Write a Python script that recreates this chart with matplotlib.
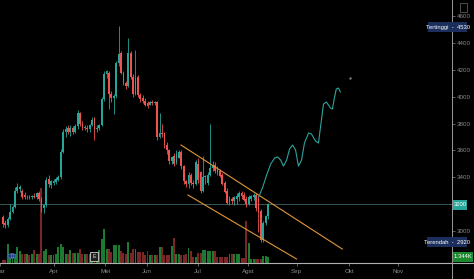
import matplotlib
matplotlib.use("Agg")
import matplotlib.pyplot as plt
from matplotlib.lines import Line2D
from matplotlib.patches import Circle, Rectangle

plt.rcParams['font.family'] = ['Liberation Sans', 'DejaVu Sans']

# OHLC per trading day (bar index = position on the chart)
opens = [3100, 3060, 3040, 3090, 3140, 3180, 3300, 3310, 3300, 3265,
         3250, 3255, 3250, 3260, 3250, 3285, 3240, 3170, 3190, 3390,
         3340, 3360, 3365, 3380, 3400, 3590, 3740, 3770, 3735, 3770,
         3740, 3780, 3880, 3800, 3765, 3770, 3760, 3790, 3840, 3760,
         3770, 3790, 3980, 4170, 4180, 4020, 3990, 4005, 4250, 4330,
         4180, 4100, 4080, 4330, 4150, 4020, 4150, 4010, 3990, 3970,
         3950, 3940, 3960, 3955, 3960, 3700, 3730, 3730, 3640, 3600,
         3520, 3560, 3510, 3545, 3590, 3480, 3370, 3350, 3420, 3360,
         3350, 3500, 3440, 3300, 3400, 3360, 3420, 3470, 3490, 3460,
         3450, 3420, 3360, 3300, 3210, 3240, 3220, 3240, 3250, 3280,
         3270, 3240, 3200, 3240, 3250, 3265, 3245, 3150, 2930, 3060,
         3110]
highs = [3120, 3080, 3100, 3200, 3190, 3330, 3360, 3340, 3310, 3290,
         3270, 3265, 3270, 3280, 3290, 3300, 3250, 3200, 3400, 3420,
         3380, 3390, 3400, 3420, 3610, 3760, 3780, 3790, 3790, 3780,
         3800, 3900, 3890, 3820, 3790, 3790, 3800, 3850, 3850, 3790,
         3800, 4000, 4190, 4200, 4190, 4040, 4020, 4270, 4530, 4340,
         4190, 4120, 4440, 4340, 4170, 4350, 4160, 4030, 4010, 3990,
         3970, 3970, 3975, 3970, 3970, 3880, 3800, 3740, 3660, 3610,
         3560, 3580, 3600, 3600, 3600, 3490, 3380, 3440, 3430, 3380,
         3530, 3540, 3450, 3560, 3420, 3440, 3800, 3520, 3510, 3480,
         3460, 3430, 3370, 3320, 3260, 3250, 3260, 3280, 3300, 3300,
         3290, 3260, 3270, 3270, 3280, 3280, 3260, 3160, 3070, 3120,
         3210]
lows = [3030, 3020, 3025, 3080, 3130, 3170, 3280, 3290, 3240, 3240,
        3240, 3235, 3240, 3245, 3240, 3220, 3140, 3130, 3180, 3330,
        3320, 3340, 3350, 3370, 3390, 3580, 3700, 3720, 3710, 3720,
        3730, 3760, 3780, 3750, 3750, 3740, 3740, 3780, 3680, 3740,
        3750, 3780, 3970, 4140, 3910, 3960, 3870, 3990, 4230, 4170,
        4090, 4060, 4070, 4130, 4000, 4010, 4000, 3960, 3950, 3930,
        3920, 3940, 3940, 3940, 3680, 3690, 3700, 3620, 3570, 3500,
        3500, 3480, 3500, 3540, 3460, 3350, 3330, 3320, 3340, 3320,
        3340, 3360, 3280, 3290, 3350, 3340, 3410, 3450, 3430, 3420,
        3400, 3340, 3280, 3200, 3190, 3200, 3190, 3200, 3220, 3240,
        3220, 3180, 3190, 3220, 3230, 3150, 2990, 2920, 2920, 3040,
        3090]
closes = [3050, 3040, 3090, 3140, 3180, 3300, 3330, 3325, 3250, 3255,
          3255, 3250, 3260, 3250, 3280, 3240, 3170, 3190, 3380, 3350,
          3370, 3370, 3390, 3400, 3590, 3740, 3760, 3735, 3770, 3740,
          3780, 3880, 3800, 3765, 3775, 3760, 3790, 3830, 3760, 3770,
          3790, 3980, 4170, 4190, 4020, 3990, 4005, 4250, 4320, 4180,
          4100, 4080, 4330, 4150, 4020, 4150, 4010, 3980, 3970, 3940,
          3930, 3960, 3950, 3960, 3700, 3730, 3720, 3630, 3600, 3520,
          3550, 3500, 3570, 3590, 3480, 3370, 3350, 3420, 3360, 3350,
          3510, 3380, 3300, 3400, 3410, 3420, 3470, 3490, 3450, 3440,
          3410, 3350, 3290, 3210, 3240, 3220, 3250, 3260, 3280, 3260,
          3230, 3200, 3250, 3260, 3265, 3170, 3140, 2930, 3060, 3110,
          3200]
# volume, thousands of lots
volumes = [0.7, 0.7, 4.3, 2.0, 2.0, 2.0, 3.6, 2.7, 2.0, 2.0,
           2.0, 1.8, 2.0, 2.9, 2.0, 2.0, 16.8, 2.7, 3.1, 1.8,
           1.8, 1.8, 2.0, 3.6, 4.3, 3.6, 2.0, 2.0, 2.9, 2.2,
           2.2, 2.2, 3.1, 2.0, 2.0, 2.0, 2.0, 1.8, 1.8, 1.8,
           2.9, 5.4, 7.6, 3.1, 3.1, 2.5, 4.0, 4.0, 4.0, 2.7,
           2.2, 2.0, 4.7, 2.2, 3.1, 3.1, 2.5, 2.5, 2.5, 1.8,
           2.7, 1.8, 1.8, 1.8, 1.8, 3.6, 3.6, 1.8, 1.8, 1.8,
           3.8, 5.6, 2.0, 2.0, 1.8, 1.8, 2.0, 3.4, 2.7, 1.3,
           1.3, 2.2, 2.2, 2.9, 2.9, 2.7, 2.7, 2.7, 2.7, 1.3,
           1.3, 1.3, 1.3, 1.3, 2.0, 2.0, 2.0, 2.0, 2.0, 1.1,
           1.1, 9.4, 4.5, 0.9, 0.9, 0.9, 0.9, 0.9, 1.6, 1.6,
           1.344]

month_pos = [-1.2, 21.0, 42.5, 59.8, 80.9, 101.6, 121.8, 143.7, 164.0]
month_labels = ['Mar', 'Apr', 'Mei', 'Jun', 'Jul', 'Agst', 'Sep', 'Okt', 'Nov']
price_ticks = [3000, 3200, 3400, 3600, 3800, 4000, 4200, 4400, 4600]

# drawn channel and projected path (bar index, price)
upper_x, upper_p = [73.9, 140.8], [3640, 2864]
lower_x, lower_p = [76.8, 121.8], [3267, 2790]
proj_x = [106.1, 107.8, 109.4, 111.1, 112.7, 114.0, 115.2, 116.4, 117.7, 118.9,
          120.2, 121.4, 122.6, 123.9, 125.1, 126.8, 128.0, 129.7, 130.9, 131.7,
          133.0, 134.2, 135.9, 136.7, 137.5, 138.3, 139.2, 140.0]
proj_p = [3252, 3327, 3416, 3498, 3543, 3551, 3528, 3483, 3528, 3610,
          3640, 3603, 3483, 3528, 3655, 3730, 3722, 3670, 3655, 3767,
          3946, 3961, 3916, 3909, 3991, 4058, 4065, 4036]

last_price = 3200
high_price = 4530
low_price = 2920

UP, DOWN = '#26a69a', '#ef5350'
VUP, VDOWN = '#1f7a31', '#7a2626'
GREY = '#8c8c8c'

W, H = 474, 279
fig = plt.figure(figsize=(W / 100, H / 100), dpi=100, facecolor='black')
ax_w = 452 / W
ax_b = (H - 263) / H
vax = fig.add_axes([0, ax_b, ax_w, 1 - ax_b])
ax = fig.add_axes([0, ax_b, ax_w, 1 - ax_b], sharex=vax)
ax.patch.set_visible(False)
vax.set_facecolor('black')

idx = list(range(len(closes)))
up = [c >= o for o, c in zip(opens, closes)]

vax.bar(idx, volumes, width=0.8, color=[VUP if u else VDOWN for u in up])
vax.set_ylim(0, 58.9)
vax.set_yticks([])

ax.vlines(idx, lows, highs, colors=[UP if u else DOWN for u in up], linewidth=0.6)
bodies = [max(abs(c - o), 5) for o, c in zip(opens, closes)]
bottoms = [min(o, c) for o, c in zip(opens, closes)]
ax.bar(idx, bodies, bottom=bottoms, width=0.75,
       color=[UP if u else DOWN for u in up], linewidth=0)

ax.axhline(last_price, color='#3a6868', linewidth=0.6, zorder=0)
ax.plot(upper_x, upper_p, color='#e0963a', linewidth=0.8)
ax.plot(lower_x, lower_p, color='#e0963a', linewidth=0.8)
ax.plot(proj_x, proj_p, color='#2aa59c', linewidth=0.8)
ax.plot([144.1], [4140], marker='o', markersize=0.8, color='#777777')

ax.set_xlim(-0.5, 186.3)
ax.set_ylim(2760, 4722)

for a in (ax, vax):
    for s in a.spines.values():
        s.set_visible(False)
ax.spines['right'].set_visible(True)
ax.spines['right'].set_color('#9a9a9a')
ax.spines['right'].set_linewidth(0.7)
ax.spines['bottom'].set_visible(True)
ax.spines['bottom'].set_color('#b0b0b0')
ax.spines['bottom'].set_linewidth(0.8)

ax.yaxis.tick_right()
ax.set_yticks(price_ticks)
# the 3200 level is shown by the last-price tag instead
ax.set_yticklabels(['' if t == last_price else str(t) for t in price_ticks])
ax.tick_params(axis='y', colors=GREY, labelsize=4.5, length=2, width=0.5, pad=1.5)
ax.set_xticks(month_pos)
ax.set_xticklabels(month_labels)
ax.tick_params(axis='x', colors=GREY, labelsize=4.5, length=2, width=0.5, pad=2.5)
vax.tick_params(axis='x', length=0, labelbottom=False)

# axis lines continuing into the price-scale corner
fig.add_artist(Line2D([ax_w, 1], [ax_b, ax_b], color='#b0b0b0', linewidth=0.8))
fig.add_artist(Line2D([ax_w, ax_w], [0, ax_b], color='#9a9a9a', linewidth=0.7))


def fx(px):
    return px / W


def fy(py):
    return (H - py) / H


def tag(x0, x1, yc, text, face, color='white'):
    fig.add_artist(Rectangle((fx(x0), fy(yc + 5)), fx(x1 - x0), 10 / H,
                             facecolor=face, edgecolor='none', zorder=5))
    fig.text(fx((x0 + x1) / 2), fy(yc), text, color=color, fontsize=4.2,
             ha='center', va='center', zorder=6)


tag(428, 467, 27, 'Tertinggi  -  %d' % high_price, '#1b2e5c')
tag(427, 467, 242, 'Terendah  -  %d' % low_price, '#1b2e5c')
tag(453, 467, 204.5, '%d' % last_price, '#26a69a')
tag(453, 473, 256.5, '%.3fK' % volumes[-1], '#1b8a2e')

# top-right scale icon
fig.add_artist(Rectangle((fx(460), fy(12)), fx(7), 9 / H, facecolor='none',
                         edgecolor='#6a6a6a', linewidth=0.5))

# event markers on the bottom
fig.add_artist(Circle((fx(12), fy(256)), 4 / W, facecolor='#1c3a7a',
                      edgecolor='#4a6fc0', linewidth=0.6))
fig.text(fx(12), fy(256), 'D', color='#8fa8e0', fontsize=3.5, ha='center', va='center')
fig.add_artist(Rectangle((fx(90), fy(261)), fx(8), 9 / H, facecolor='#202020',
                         edgecolor='#d0d0d0', linewidth=0.6))
fig.text(fx(94), fy(256.5), 'E', color='#e0e0e0', fontsize=3.8, ha='center', va='center')

fig.savefig('out.png', dpi=100, facecolor='black')
